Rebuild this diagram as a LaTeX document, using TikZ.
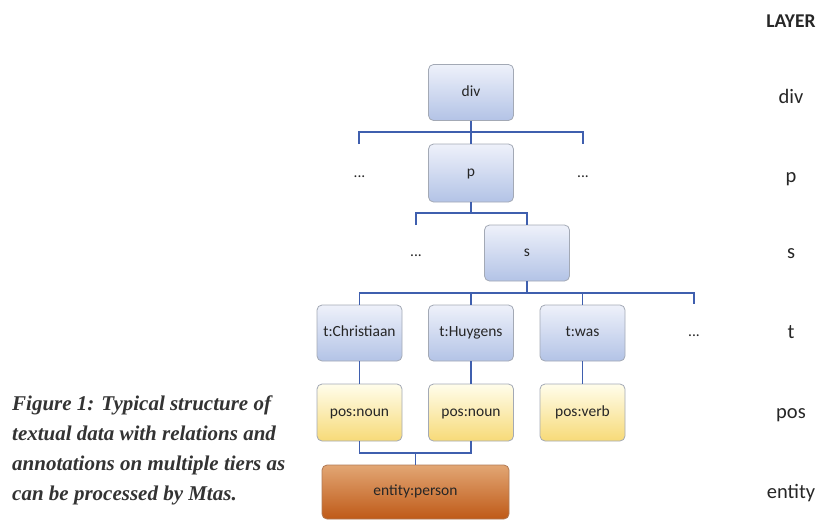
\documentclass[tikz,border=0pt]{standalone}
\usepackage{fontspec}
\setmainfont{Carlito}
\newfontfamily\capfont{Liberation Serif}
\begin{document}
\begin{tikzpicture}[x=1pt,y=-1pt,
  box/.style={rounded corners=5pt, draw=boxrim, line width=0.8pt, minimum width=85pt,
    minimum height=56pt, inner sep=0pt, text=black!85, text height=0.72em, text depth=0pt,
    font=\fontsize{15.5}{17}\selectfont},
  bluebox/.style={box, top color=blueTop, bottom color=blueBot},
  yellowbox/.style={box, top color=yelTop, bottom color=yelBot},
  orangebox/.style={box, draw=orgRim, top color=orgTop, bottom color=orgBot},
  conn/.style={draw=connBlue, line width=1.6pt},
  dots/.style={anchor=base, font=\fontsize{15.5}{17}\selectfont, text=black!85},
  layer/.style={anchor=base, font=\fontsize{20.5}{22}\selectfont, text=black!85}
]
\definecolor{boxrim}{HTML}{A3A9B5}
\definecolor{blueTop}{HTML}{EEF1FA}
\definecolor{blueBot}{HTML}{B3C3E6}
\definecolor{yelTop}{HTML}{FFFDEB}
\definecolor{yelBot}{HTML}{F7DA78}
\definecolor{orgTop}{HTML}{E2A674}
\definecolor{orgBot}{HTML}{BF5A18}
\definecolor{orgRim}{HTML}{B07A55}
\definecolor{connBlue}{HTML}{3F5FAE}

\useasboundingbox (0,0) rectangle (822,520);

% tree nodes
\node[bluebox] (div) at (471,92.5) {div};
\node[bluebox, minimum height=58pt] (p) at (471,173) {p};
\node[bluebox] (s) at (527,253) {s};
\node[bluebox] (t1) at (359.5,333) {t:Christiaan};
\node[bluebox] (t2) at (471,333) {t:Huygens};
\node[bluebox] (t3) at (582.5,333) {t:was};
\node[yellowbox, minimum height=57pt] (pos1) at (359.5,412.5) {pos:noun};
\node[yellowbox, minimum height=57pt] (pos2) at (471,412.5) {pos:noun};
\node[yellowbox, minimum height=57pt] (pos3) at (582.5,412.5) {pos:verb};
\node[orangebox, minimum width=187pt, minimum height=54pt] (ent) at (415.5,492) {entity:person};

% elided siblings
\node[dots] (dp1) at (359.5,177.5) {...};
\node[dots] (dp2) at (583,177.5) {...};
\node[dots] (ds1) at (416,256.5) {...};
\node[dots] (dt1) at (694,336.5) {...};

% branch points and open ends
\coordinate (hubdiv) at (471,132);
\coordinate (pl) at (359,144);
\coordinate (pr) at (583,144);
\coordinate (hubp) at (471,213);
\coordinate (sl) at (416,225);
\coordinate (hubs) at (527,293);
\coordinate (tr) at (694,304);
\coordinate (hubent) at (415.5,453);

% connectors
\draw[conn] (div.south) -- (p.north);
\draw[conn] (pl) |- (hubdiv) -| (pr);
\draw[conn] (p.south) -- (hubp);
\draw[conn] (sl) |- (hubp) -| (s.north);
\draw[conn] (s.south) -- (hubs);
\draw[conn] (t1.north) |- (hubs) -| (tr);
\draw[conn] (t2.north) -- (t2.north |- hubs);
\draw[conn] (t3.north) -- (t3.north |- hubs);
\draw[conn] (t1.south) -- (pos1.north);
\draw[conn] (t2.south) -- (pos2.north);
\draw[conn] (t3.south) -- (pos3.north);
\draw[conn] (pos1.south) |- (hubent) -| (pos2.south);
\draw[conn] (hubent) -- (ent.north);

% layer column
\node[layer, font=\fontsize{19.5}{21}\selectfont\bfseries] (lhead) at (791,27) {LAYER};
\node[layer] (ldiv) at (791,103.5) {div};
\node[layer] (lp) at (791,182) {p};
\node[layer] (ls) at (791,258) {s};
\node[layer] (lt) at (791,338) {t};
\node[layer] (lpos) at (791,418) {pos};
\node[layer] (lent) at (791,498) {entity};

% caption
\node[anchor=north west, align=left, inner sep=0pt, text=black!80,
  font=\capfont\bfseries\itshape\fontsize{21}{30}\selectfont] (cap) at (12,395.5)
  {Figure 1: Typical structure of\\ textual data with relations and\\
   annotations on multiple tiers as\\ can be processed by Mtas.};
\end{tikzpicture}
\end{document}
